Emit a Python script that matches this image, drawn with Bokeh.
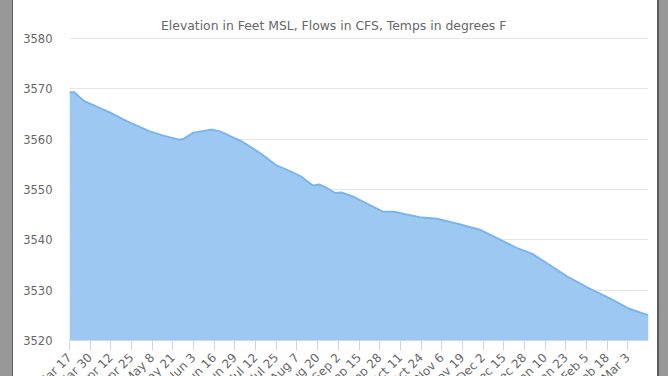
import math
from bokeh.plotting import figure
from bokeh.models import ColumnDataSource, Div, FixedTicker, Title
from bokeh.layouts import row
from bokeh.embed import file_html
from bokeh.resources import INLINE

# ---- data (day offset from Mar 17, elevation in feet MSL) ----
days = [0, 3, 9, 26, 36, 50, 59, 69, 72, 78, 90, 95, 101, 108, 120, 130, 139,
        146, 153, 157, 163, 167, 171, 179, 187, 197, 204, 220, 231, 244, 258,
        271, 281, 291, 298, 313, 327, 340, 352, 364]
elev = [3569.3, 3569.3, 3567.6, 3565.2, 3563.6, 3561.6, 3560.7, 3559.9, 3560.1,
        3561.3, 3561.9, 3561.5, 3560.6, 3559.6, 3557.2, 3554.8, 3553.6, 3552.5,
        3550.8, 3551.0, 3550.1, 3549.3, 3549.4, 3548.5, 3547.2, 3545.6, 3545.6,
        3544.5, 3544.2, 3543.2, 3542.0, 3540.0, 3538.4, 3537.2, 3535.8, 3532.7,
        3530.3, 3528.3, 3526.3, 3525.0]

tick_labels = ["Mar 17", "Mar 30", "Apr 12", "Apr 25", "May 8", "May 21",
               "Jun 3", "Jun 16", "Jun 29", "Jul 12", "Jul 25", "Aug 7",
               "Aug 20", "Sep 2", "Sep 15", "Sep 28", "Oct 11", "Oct 24",
               "Nov 6", "Nov 19", "Dec 2", "Dec 15", "Dec 28", "Jan 10",
               "Jan 23", "Feb 5", "Feb 18", "Mar 3"]
tick_days = [13 * i for i in range(len(tick_labels))]
y_ticks = [3520, 3530, 3540, 3550, 3560, 3570, 3580]
subtitle = "Elevation in Feet MSL, Flows in CFS, Temps in degrees F"

BASE = 3520
FONT = "DejaVu Sans"
LABEL_COLOR = "#666666"

p = figure(frame_width=579, frame_height=303,
           x_range=(0, 364), y_range=(3520, 3580.2),
           output_backend="svg", toolbar_location=None,
           min_border_left=56, min_border_right=9,
           min_border_top=37, min_border_bottom=10)
p.outline_line_color = None
p.background_fill_color = "white"
p.border_fill_color = "white"

p.title = Title(text=subtitle, align="left", offset=91.5, standoff=10,
                text_font=FONT, text_font_size="12.4px",
                text_font_style="normal", text_color=LABEL_COLOR)

p.xgrid.visible = False
p.ygrid.grid_line_color = "#e6e6e6"
p.ygrid.grid_line_width = 1

p.yaxis.ticker = FixedTicker(ticks=y_ticks)
p.yaxis.axis_line_color = None
p.yaxis.major_tick_line_color = None
p.yaxis.minor_tick_line_color = None
p.yaxis.major_tick_out = 0
p.yaxis.major_label_standoff = 17
p.yaxis.major_label_text_font = FONT
p.yaxis.major_label_text_font_size = "11.5px"
p.yaxis.major_label_text_color = LABEL_COLOR

p.xaxis.ticker = FixedTicker(ticks=tick_days)
p.xaxis.major_label_overrides = {t: lab for t, lab in zip(tick_days, tick_labels)}
p.xaxis.major_label_orientation = math.pi / 4
p.xaxis.major_label_standoff = 5
p.xaxis.major_label_text_font = FONT
p.xaxis.major_label_text_font_size = "12px"
p.xaxis.major_label_text_color = LABEL_COLOR
p.xaxis.axis_line_color = "#ccd6eb"
p.xaxis.major_tick_line_color = "#ccd6eb"
p.xaxis.minor_tick_line_color = None
p.xaxis.major_tick_in = 0
p.xaxis.major_tick_out = 10

src = ColumnDataSource(dict(d=days, v=elev))
p.varea(x="d", y1=BASE, y2="v", source=src, fill_color="#9dc8f1")
p.line(x="d", y="v", source=src, line_color="#7cb5ec", line_width=2)

left = Div(text="", width=13, height=376, margin=0,
           styles={"background": "linear-gradient(to right, #989898 0px, #989898 12px, #5c5c5c 12px)"})
right = Div(text="", width=11, height=376, margin=0,
            styles={"background": "linear-gradient(to right, #5c5c5c 0px, #5c5c5c 2px, #989898 2px)"})

layout = row(left, p, right, spacing=0)
html = file_html(layout, INLINE)
html = html.replace("</head>", "<style>html,body{margin:0;overflow:hidden;}</style></head>", 1)
open("out.html", "w").write(html)
